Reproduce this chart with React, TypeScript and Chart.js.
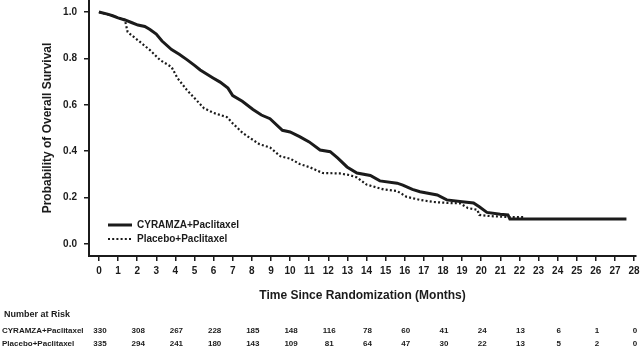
import React, { useEffect, useRef } from "react";
import { Chart, registerables } from "chart.js";

Chart.register(...registerables);

const FONT = "'Liberation Sans', Arial, Helvetica, sans-serif";
const INK = "#1b1b1b";

const seriesLabels = ["CYRAMZA+Paclitaxel", "Placebo+Paclitaxel"];
const xTitle = "Time Since Randomization (Months)";
const yTitle = "Probability of Overall Survival";
const riskTitle = "Number at Risk";

const xTickValues = [0, 1, 2, 3, 4, 5, 6, 7, 8, 9, 10, 11, 12, 13, 14, 15, 16, 17, 18, 19, 20, 21, 22, 23, 24, 25, 26, 27, 28];
const yTickValues = [0, 0.2, 0.4, 0.6, 0.8, 1.0];

const ramTimes = [0, 0.5, 0.75, 1.0, 1.36, 1.7, 2.04, 2.4, 2.67, 3.0, 3.3, 3.8, 4.2, 4.6, 5.0, 5.3, 5.97, 6.34, 6.75, 7.0, 7.5, 8.06, 8.5, 8.95, 9.6, 10.0, 10.5, 11.0, 11.57, 12.1, 12.5, 12.98, 13.5, 14.2, 14.7, 15.6, 15.9, 16.4, 16.8, 17.7, 18.2, 19.0, 19.6, 19.9, 20.3, 21.0, 21.4, 21.5, 27.6];
const ramSurv = [1.0, 0.99, 0.983, 0.975, 0.966, 0.955, 0.944, 0.938, 0.925, 0.905, 0.875, 0.838, 0.818, 0.795, 0.77, 0.75, 0.716, 0.698, 0.672, 0.64, 0.615, 0.58, 0.556, 0.54, 0.49, 0.483, 0.463, 0.44, 0.405, 0.398, 0.37, 0.332, 0.306, 0.295, 0.272, 0.262, 0.254, 0.235, 0.225, 0.211, 0.19, 0.182, 0.177, 0.16, 0.136, 0.128, 0.125, 0.108, 0.108];

const plaTimes = [0, 0.75, 1.36, 1.5, 2.15, 2.67, 3.2, 3.8, 4.1, 4.6, 5.1, 5.5, 6.0, 6.7, 7.0, 7.5, 7.9, 8.4, 8.95, 9.5, 10.0, 10.5, 11.05, 11.7, 12.6, 13.1, 13.5, 14.0, 14.9, 15.6, 16.1, 16.8, 17.5, 18.2, 18.9, 19.3, 19.8, 19.9, 20.5, 21.4, 22.2];
const plaSurv = [1.0, 0.983, 0.966, 0.914, 0.871, 0.836, 0.793, 0.763, 0.716, 0.664, 0.62, 0.585, 0.565, 0.547, 0.52, 0.48, 0.457, 0.43, 0.416, 0.378, 0.368, 0.345, 0.33, 0.306, 0.304, 0.297, 0.287, 0.256, 0.235, 0.228, 0.203, 0.19, 0.181, 0.177, 0.175, 0.155, 0.147, 0.125, 0.12, 0.116, 0.116];

const riskTimes = [0, 2, 4, 6, 8, 10, 12, 14, 16, 18, 20, 22, 24, 26, 28];
const riskRam = [330, 308, 267, 228, 185, 148, 116, 78, 60, 41, 24, 13, 6, 1, 0];
const riskPla = [335, 294, 241, 180, 143, 109, 81, 64, 47, 30, 22, 13, 5, 2, 0];

const zip = (xs: number[], ys: number[]) => xs.map((x, i) => ({ x, y: ys[i] }));

const overlayPlugin = {
  id: "overlay",
  afterDraw(chart: any) {
    const { ctx, chartArea } = chart;
    const xs = chart.scales.x;
    ctx.save();
    ctx.fillStyle = INK;
    ctx.textBaseline = "middle";

    // Y title
    ctx.save();
    ctx.font = `bold 12px ${FONT}`;
    ctx.translate(48, (chartArea.top + chartArea.bottom) / 2);
    ctx.rotate(-Math.PI / 2);
    ctx.textAlign = "center";
    ctx.fillText(yTitle, 0, 0);
    ctx.restore();

    // X title
    ctx.font = `bold 12px ${FONT}`;
    ctx.textAlign = "center";
    ctx.fillText(xTitle, (chartArea.left + chartArea.right) / 2, 296);

    // Legend
    const ds = chart.data.datasets;
    const legY = [225, 239];
    ctx.font = `bold 10px ${FONT}`;
    ctx.textAlign = "left";
    ds.forEach((d: any, i: number) => {
      ctx.save();
      ctx.strokeStyle = d.borderColor;
      ctx.lineWidth = d.borderWidth;
      ctx.setLineDash(d.borderDash || []);
      ctx.beginPath();
      ctx.moveTo(108, legY[i]);
      ctx.lineTo(132, legY[i]);
      ctx.stroke();
      ctx.restore();
      ctx.fillText(d.label, 137, legY[i] + 0.5);
    });

    // Number at risk table
    ctx.font = `bold 9px ${FONT}`;
    ctx.textAlign = "left";
    ctx.fillText(riskTitle, 4, 315);
    ctx.font = `bold 8px ${FONT}`;
    const rows = [riskRam, riskPla];
    const rowY = [331, 344];
    rows.forEach((row, r) => {
      ctx.textAlign = "left";
      ctx.fillText(seriesLabels[r], 2, rowY[r]);
      ctx.textAlign = "center";
      row.forEach((v, i) => {
        ctx.fillText(String(v), xs.getPixelForValue(riskTimes[i]) + 1, rowY[r]);
      });
    });
    ctx.restore();
  },
};

export default function App() {
  const ref = useRef<HTMLCanvasElement>(null);
  useEffect(() => {
    document.body.style.margin = "0";
    const canvas = ref.current;
    if (!canvas) return;
    const chart = new Chart(canvas, {
      type: "line",
      data: {
        datasets: [
          {
            label: seriesLabels[0],
            data: zip(ramTimes, ramSurv),
            borderColor: INK,
            borderWidth: 3,
            pointRadius: 0,
            tension: 0,
            fill: false,
          },
          {
            label: seriesLabels[1],
            data: zip(plaTimes, plaSurv),
            borderColor: INK,
            borderWidth: 2.2,
            borderDash: [2, 2.2],
            pointRadius: 0,
            tension: 0,
            fill: false,
          },
        ],
      },
      options: {
        animation: false,
        responsive: false,
        maintainAspectRatio: false,
        layout: { padding: { left: 0, right: 4, top: 0, bottom: 0 } },
        plugins: { legend: { display: false }, tooltip: { enabled: false }, title: { display: false } },
        scales: {
          x: {
            type: "linear",
            min: -0.52,
            max: 28.1,
            afterFit: (s: any) => {
              s.height = 95;
              s.paddingLeft = 0;
              s.paddingRight = 0;
            },
            afterBuildTicks: (s: any) => {
              s.ticks = xTickValues.map((v) => ({ value: v }));
            },
            grid: { display: true, drawOnChartArea: false, drawTicks: true, tickLength: 5, color: INK, lineWidth: 1.5 },
            border: { display: true, color: INK, width: 2 },
            ticks: {
              color: INK,
              font: { family: FONT, size: 10, weight: "bold" },
              padding: 4,
              maxRotation: 0,
              autoSkip: false,
              callback: (v: any) => String(v),
            },
          },
          y: {
            type: "linear",
            min: -0.052,
            max: 1.052,
            afterFit: (s: any) => {
              s.width = 89;
              s.paddingTop = 0;
              s.paddingBottom = 0;
            },
            afterBuildTicks: (s: any) => {
              s.ticks = yTickValues.map((v) => ({ value: v }));
            },
            grid: { display: true, drawOnChartArea: false, drawTicks: true, tickLength: 5, color: INK, lineWidth: 1.5 },
            border: { display: true, color: INK, width: 2 },
            ticks: {
              color: INK,
              font: { family: FONT, size: 10, weight: "bold" },
              padding: 7,
              autoSkip: false,
              callback: (v: any) => Number(v).toFixed(1),
            },
          },
        },
      },
      plugins: [overlayPlugin],
    } as any);
    return () => chart.destroy();
  }, []);
  return <canvas ref={ref} width={640} height={351} style={{ display: "block" }} />;
}
